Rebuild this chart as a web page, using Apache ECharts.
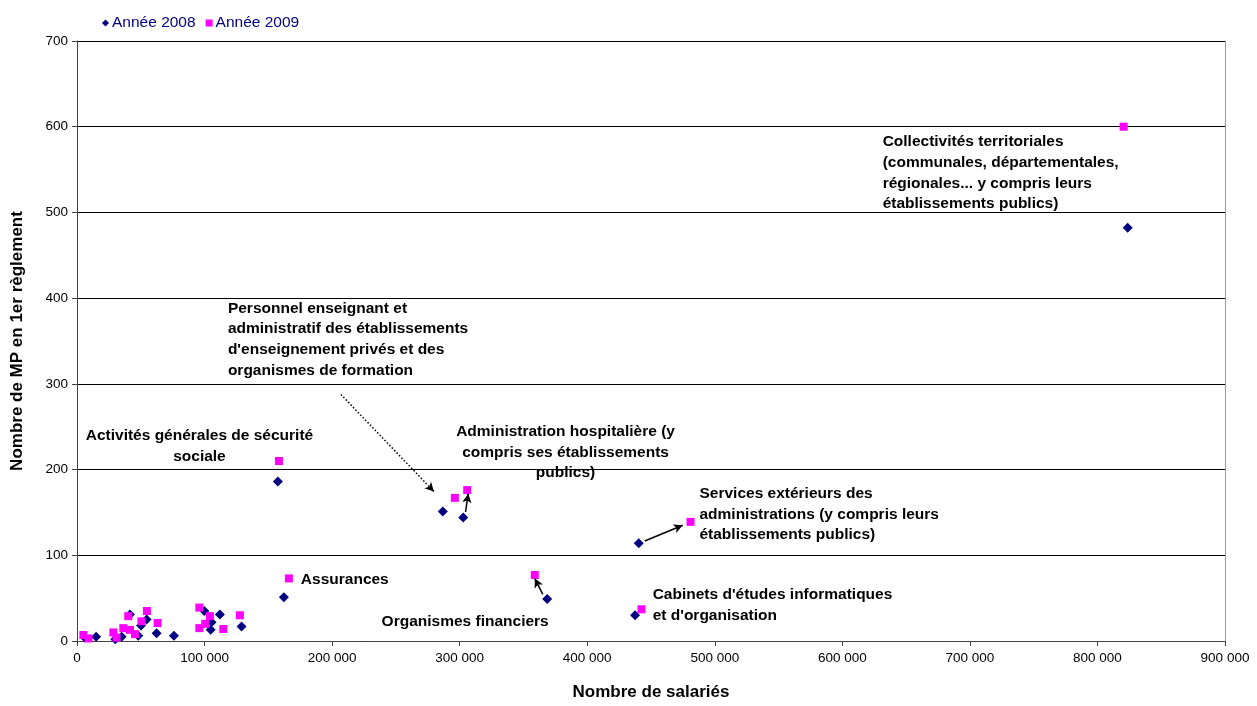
<!DOCTYPE html>
<html>
<head>
<meta charset="utf-8">
<script src="https://cdn.jsdelivr.net/npm/echarts@6/dist/echarts.min.js"></script>
<style>
html,body{margin:0;padding:0;background:#fff;}
#chart{width:1257px;height:706px;}
</style>
</head>
<body>
<div id="chart"></div>
<script>
// ---- Data ----
const seriesNames = ['Année 2008', 'Année 2009'];
const data2008 = [
  [6000,4],[15000,5],[30000,2],[35000,5],[41500,31],[48000,6],[50200,18],[54600,25],
  [62400,9],[76000,6],[99800,35],[104800,13],[105500,22],[112000,31],[129000,17],
  [157500,186],[162200,51],[286800,151],[302800,144],[368600,49],[437500,30],
  [440400,114],[823700,482]
];
const data2009 = [
  [5000,7],[9000,3],[28500,10],[31000,4],[36300,15],[40200,29],[41500,13],[45500,8],
  [50500,23],[54800,35],[63200,21],[95900,39],[95900,15],[100500,20],[104200,29],
  [114700,14],[127700,30],[158300,210],[166100,73],[296200,167],[305900,176],
  [358900,77],[442500,37],[481000,139],[820500,600]
];
const xTicks = [0,100000,200000,300000,400000,500000,600000,700000,800000,900000];
const yTicks = [0,100,200,300,400,500,600,700];
const xTitle = 'Nombre de salariés';
const yTitle = 'Nombre de MP en 1er règlement';

// annotations (anchor in data coordinates: first line)
const annotTexts = [
  'Collectivités territoriales\n(communales, départementales,\nrégionales... y compris leurs\nétablissements publics)',
  'Personnel enseignant et\nadministratif des établissements\nd\'enseignement privés et des\norganismes de formation',
  'Activités générales de sécurité\nsociale',
  'Administration hospitalière (y\ncompris ses établissements\npublics)',
  'Services extérieurs des\nadministrations (y compris leurs\nétablissements publics)',
  'Assurances',
  'Organismes financiers',
  'Cabinets d\'études informatiques\net d\'organisation'
];
const annotAnchors = [
  [631600,582],[118300,388],[96000,239],[383000,244],[488000,172],[175500,71],[238800,23],[451300,54]
];
const annotAlign = ['left','left','center','center','left','left','left','left'];

// arrows [from, to] in data coordinates
const arrows = [
  [[206900,287.6],[279800,174.4]],
  [[304600,150.5],[306700,171.8]],
  [[445100,116.7],[474900,135.0]],
  [[365200,54.3],[358900,72.8]]
];
const arrowDotted = [true,false,false,false];

// ---- Chart ----
const FONT = '"Liberation Sans", Arial, sans-serif';
const chart = echarts.init(document.getElementById('chart'));
const fmtNum = v => v === 0 ? '0' : String(v).replace(/\B(?=(\d{3})+(?!\d))/g, ' ');

const option = {
  animation: false,
  backgroundColor: '#fff',
  textStyle: {fontFamily: FONT},
  grid: {left: 77, right: 32, top: 41, bottom: 59, containLabel: false},
  legend: {
    left: 97, top: 10, itemWidth: 7, itemHeight: 7, itemGap: 10,
    textStyle: {fontFamily: FONT, fontSize: 15.5, color: '#000080', padding: [0,0,0,-2]},
    data: [{name: seriesNames[0], icon: 'diamond'}, {name: seriesNames[1], icon: 'rect'}]
  },
  xAxis: {
    type: 'value', min: xTicks[0], max: xTicks[xTicks.length-1], interval: 100000,
    name: xTitle, nameLocation: 'middle', nameGap: 43,
    nameTextStyle: {fontFamily: FONT, fontSize: 17, fontWeight: 'bold', color: '#000'},
    axisLine: {show: true, lineStyle: {color: '#444', width: 1}},
    axisTick: {show: true, length: 5, lineStyle: {color: '#444'}},
    axisLabel: {fontFamily: FONT, fontSize: 13.5, color: '#000', margin: 10, formatter: fmtNum},
    splitLine: {show: false}
  },
  yAxis: [{
    type: 'value', min: yTicks[0], max: yTicks[yTicks.length-1], interval: 100,
    name: yTitle, nameLocation: 'middle', nameGap: 51, nameRotate: 90,
    nameTextStyle: {fontFamily: FONT, fontSize: 17, fontWeight: 'bold', color: '#000'},
    axisLine: {show: true, lineStyle: {color: '#444', width: 1}},
    axisTick: {show: true, length: 5, lineStyle: {color: '#444'}},
    axisLabel: {fontFamily: FONT, fontSize: 13.5, color: '#000', margin: 9},
    splitLine: {show: true, lineStyle: {color: '#000', width: 1}}
  }, {
    type: 'value', min: 0, max: 700, interval: 100, position: 'right',
    axisLine: {show: true, lineStyle: {color: '#999', width: 1}},
    axisTick: {show: false}, axisLabel: {show: false}, splitLine: {show: false}
  }],
  series: [
    {
      name: seriesNames[0], type: 'scatter', symbol: 'diamond', symbolSize: [10, 10],
      itemStyle: {color: '#000080', opacity: 1}, data: data2008, z: 3
    },
    {
      name: seriesNames[1], type: 'scatter', symbol: 'rect', symbolSize: 8,
      itemStyle: {color: '#FF00FF', opacity: 1}, data: data2009, z: 4
    },
    {
      name: 'arrows', type: 'scatter', data: [], silent: true,
      markLine: {
        silent: true, animation: false,
        symbol: ['none', 'arrow'], symbolSize: [7, 9],
        label: {show: false},
        data: arrows.map((a, i) => [
          {coord: a[0], lineStyle: {color: '#000', width: 1.5, type: arrowDotted[i] ? [1.5, 2] : 'solid'}},
          {coord: a[1]}
        ])
      }
    }
  ]
};
chart.setOption(option);

// place annotation text using the chart's own scales
const graphics = annotTexts.map((t, i) => {
  const p = chart.convertToPixel({gridIndex: 0}, annotAnchors[i]);
  return {
    type: 'text', x: p[0], y: p[1] - 10.25, silent: true, z: 10,
    style: {
      text: t, fill: '#000', font: 'bold 15.5px ' + FONT,
      align: annotAlign[i], verticalAlign: 'top', lineHeight: 20.6
    }
  };
});
chart.setOption({graphic: graphics});
</script>
</body>
</html>
